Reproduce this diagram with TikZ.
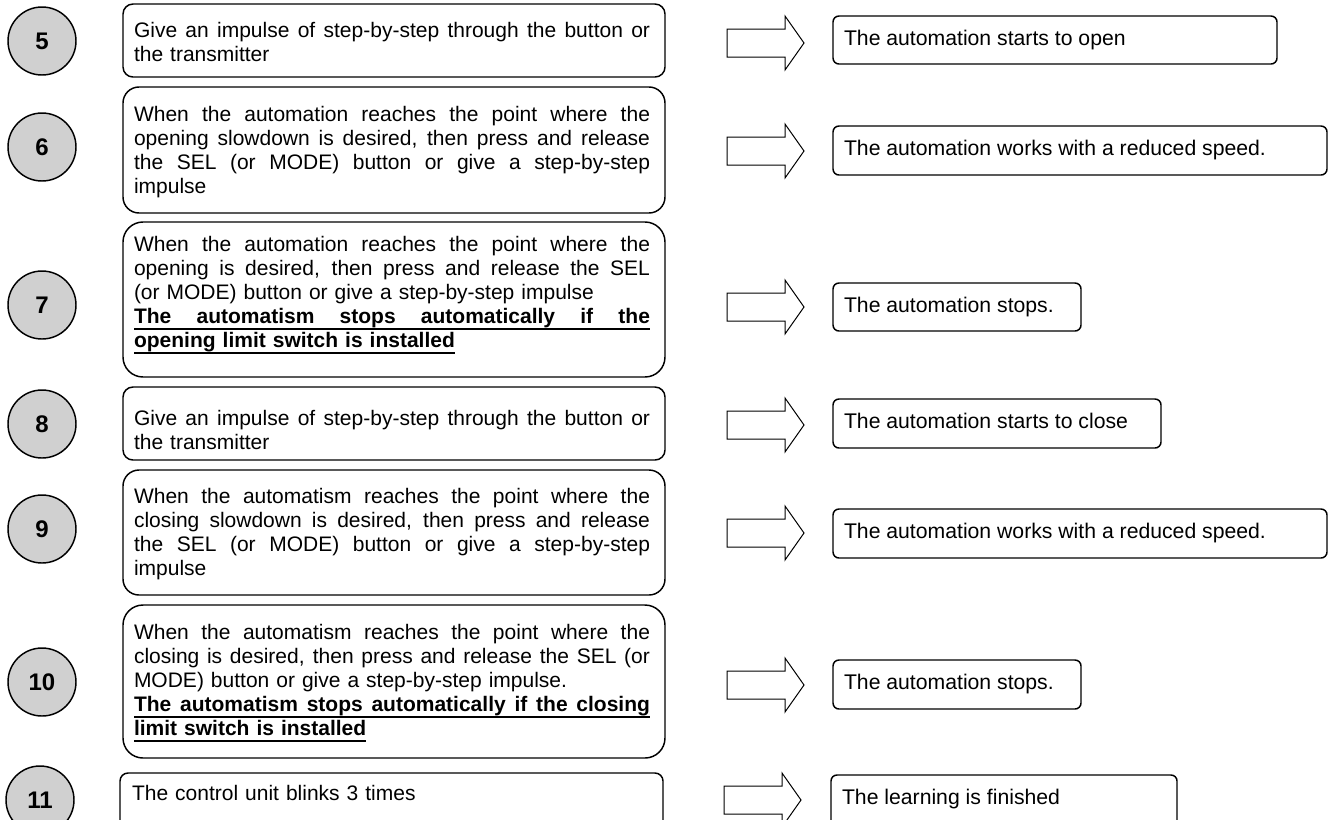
\documentclass[tikz,border=0pt]{standalone}
\usepackage{fontspec}
\setmainfont{Liberation Sans}
\newcommand{\pxu}{0.75pt}
\newlength{\tw}
\setlength{\tw}{387pt}
\newcommand{\jl}[1]{\makebox[\tw][s]{\spaceskip=\fontdimen2\font plus 1fil\xspaceskip=\fontdimen2\font plus 1fil\relax #1}}
\newcommand{\thul}[1]{\vtop{\hbox{\vphantom{gp}#1}\kern0.4pt\hrule height 1.3pt}}
\newcommand{\ujl}[1]{\thul{\jl{#1}}}
\definecolor{circgray}{RGB}{208,208,208}
\begin{document}
\begin{tikzpicture}[x=0.75pt,y=-0.75pt,
  every node/.style={inner sep=0pt, outer sep=0pt},
  numcirc/.style={circle, draw, line width=1.1pt, fill=circgray, minimum size=68*\pxu, font=\fontsize{18}{18}\selectfont\bfseries},
  lbox/.style={draw, line width=1.1pt, anchor=north west},
  rbox/.style={draw, line width=1.1pt, rounded corners=6*\pxu, anchor=north west},
  ltext/.style={anchor=base west, text width=\tw, align=left, font=\fontsize{15.75}{18}\selectfont},
  rtext/.style={anchor=base west, font=\fontsize{15.9}{18}\selectfont},
  blockarrow/.pic={\draw[line width=0.75pt, line join=miter] (0,-14)--(58,-14)--(58,-27)--(77,0)--(58,27)--(58,14)--(0,14)--cycle;}
]
\useasboundingbox (0,0) rectangle (1328,819);

% number circles
\node[numcirc] (C5) at (42,41) {5};
\node[numcirc] (C6) at (42,147) {6};
\node[numcirc] (C7) at (42,305) {7};
\node[numcirc] (C8) at (42,424) {8};
\node[numcirc] (C9) at (42,529) {9};
\node[numcirc] (C10) at (42,682) {10};
\node[numcirc] (C11) at (40,800) {11};

% left boxes
\node[lbox, rounded corners=10*\pxu, minimum width=542*\pxu, minimum height=73*\pxu] (L5) at (123,4) {};
\node[lbox, rounded corners=16*\pxu, minimum width=542*\pxu, minimum height=126*\pxu] (L6) at (123,87) {};
\node[lbox, rounded corners=20*\pxu, minimum width=542*\pxu, minimum height=155*\pxu] (L7) at (123,222) {};
\node[lbox, rounded corners=10*\pxu, minimum width=542*\pxu, minimum height=73*\pxu] (L8) at (123,387) {};
\node[lbox, rounded corners=16*\pxu, minimum width=542*\pxu, minimum height=125*\pxu] (L9) at (123,470) {};
\node[lbox, rounded corners=20*\pxu, minimum width=542*\pxu, minimum height=153*\pxu] (L10) at (123,605) {};
\node[lbox, rounded corners=8*\pxu, minimum width=543*\pxu, minimum height=70*\pxu] (L11) at (120,773) {};

% left texts
\node[ltext] (T5) at (134,37) {\jl{Give an impulse of step-by-step through the button or}\\the transmitter};
\node[ltext] (T6) at (134,121) {\jl{When the automation reaches the point where the}\\\jl{opening slowdown is desired, then press and release}\\\jl{the SEL (or MODE) button or give a step-by-step}\\impulse};
\node[ltext] (T7) at (134,251) {\jl{When the automation reaches the point where the}\\\jl{opening is desired, then press and release the SEL}\\(or MODE) button or give a step-by-step impulse\\\textbf{\ujl{The automatism stops automatically if the}}\\\textbf{\thul{opening limit switch is installed}}};
\node[ltext] (T8) at (134,425) {\jl{Give an impulse of step-by-step through the button or}\\the transmitter};
\node[ltext] (T9) at (134,503) {\jl{When the automatism reaches the point where the}\\\jl{closing slowdown is desired, then press and release}\\\jl{the SEL (or MODE) button or give a step-by-step}\\impulse};
\node[ltext] (T10) at (134,639) {\jl{When the automatism reaches the point where the}\\\jl{closing is desired, then press and release the SEL (or}\\MODE) button or give a step-by-step impulse.\\\textbf{\ujl{The automatism stops automatically if the closing}}\\\textbf{\thul{limit switch is installed}}};
\node[ltext] (T11) at (132,800) {The control unit blinks 3 times};

% block arrows
\pic at (727,43) {blockarrow};
\pic at (727,151) {blockarrow};
\pic at (727,307) {blockarrow};
\pic at (727,425) {blockarrow};
\pic at (727,533) {blockarrow};
\pic at (727,685) {blockarrow};
\pic at (724,800) {blockarrow};

% right boxes
\node[rbox, minimum width=444*\pxu, minimum height=48*\pxu] (R5) at (833,16) {};
\node[rbox, minimum width=494*\pxu, minimum height=49*\pxu] (R6) at (833,126) {};
\node[rbox, minimum width=248*\pxu, minimum height=48*\pxu] (R7) at (833,283) {};
\node[rbox, minimum width=328*\pxu, minimum height=49*\pxu] (R8) at (833,399) {};
\node[rbox, minimum width=494*\pxu, minimum height=49*\pxu] (R9) at (833,509) {};
\node[rbox, minimum width=248*\pxu, minimum height=49*\pxu] (R10) at (833,660) {};
\node[rbox, minimum width=346*\pxu, minimum height=60*\pxu] (R11) at (831,775) {};

% right texts
\node[rtext] (S5) at (844,45) {The automation starts to open};
\node[rtext] (S6) at (844,155) {The automation works with a reduced speed.};
\node[rtext] (S7) at (844,312) {The automation stops.};
\node[rtext] (S8) at (844,428) {The automation starts to close};
\node[rtext] (S9) at (844,538) {The automation works with a reduced speed.};
\node[rtext] (S10) at (844,689) {The automation stops.};
\node[rtext] (S11) at (842,804) {The learning is finished};
\end{tikzpicture}
\end{document}
